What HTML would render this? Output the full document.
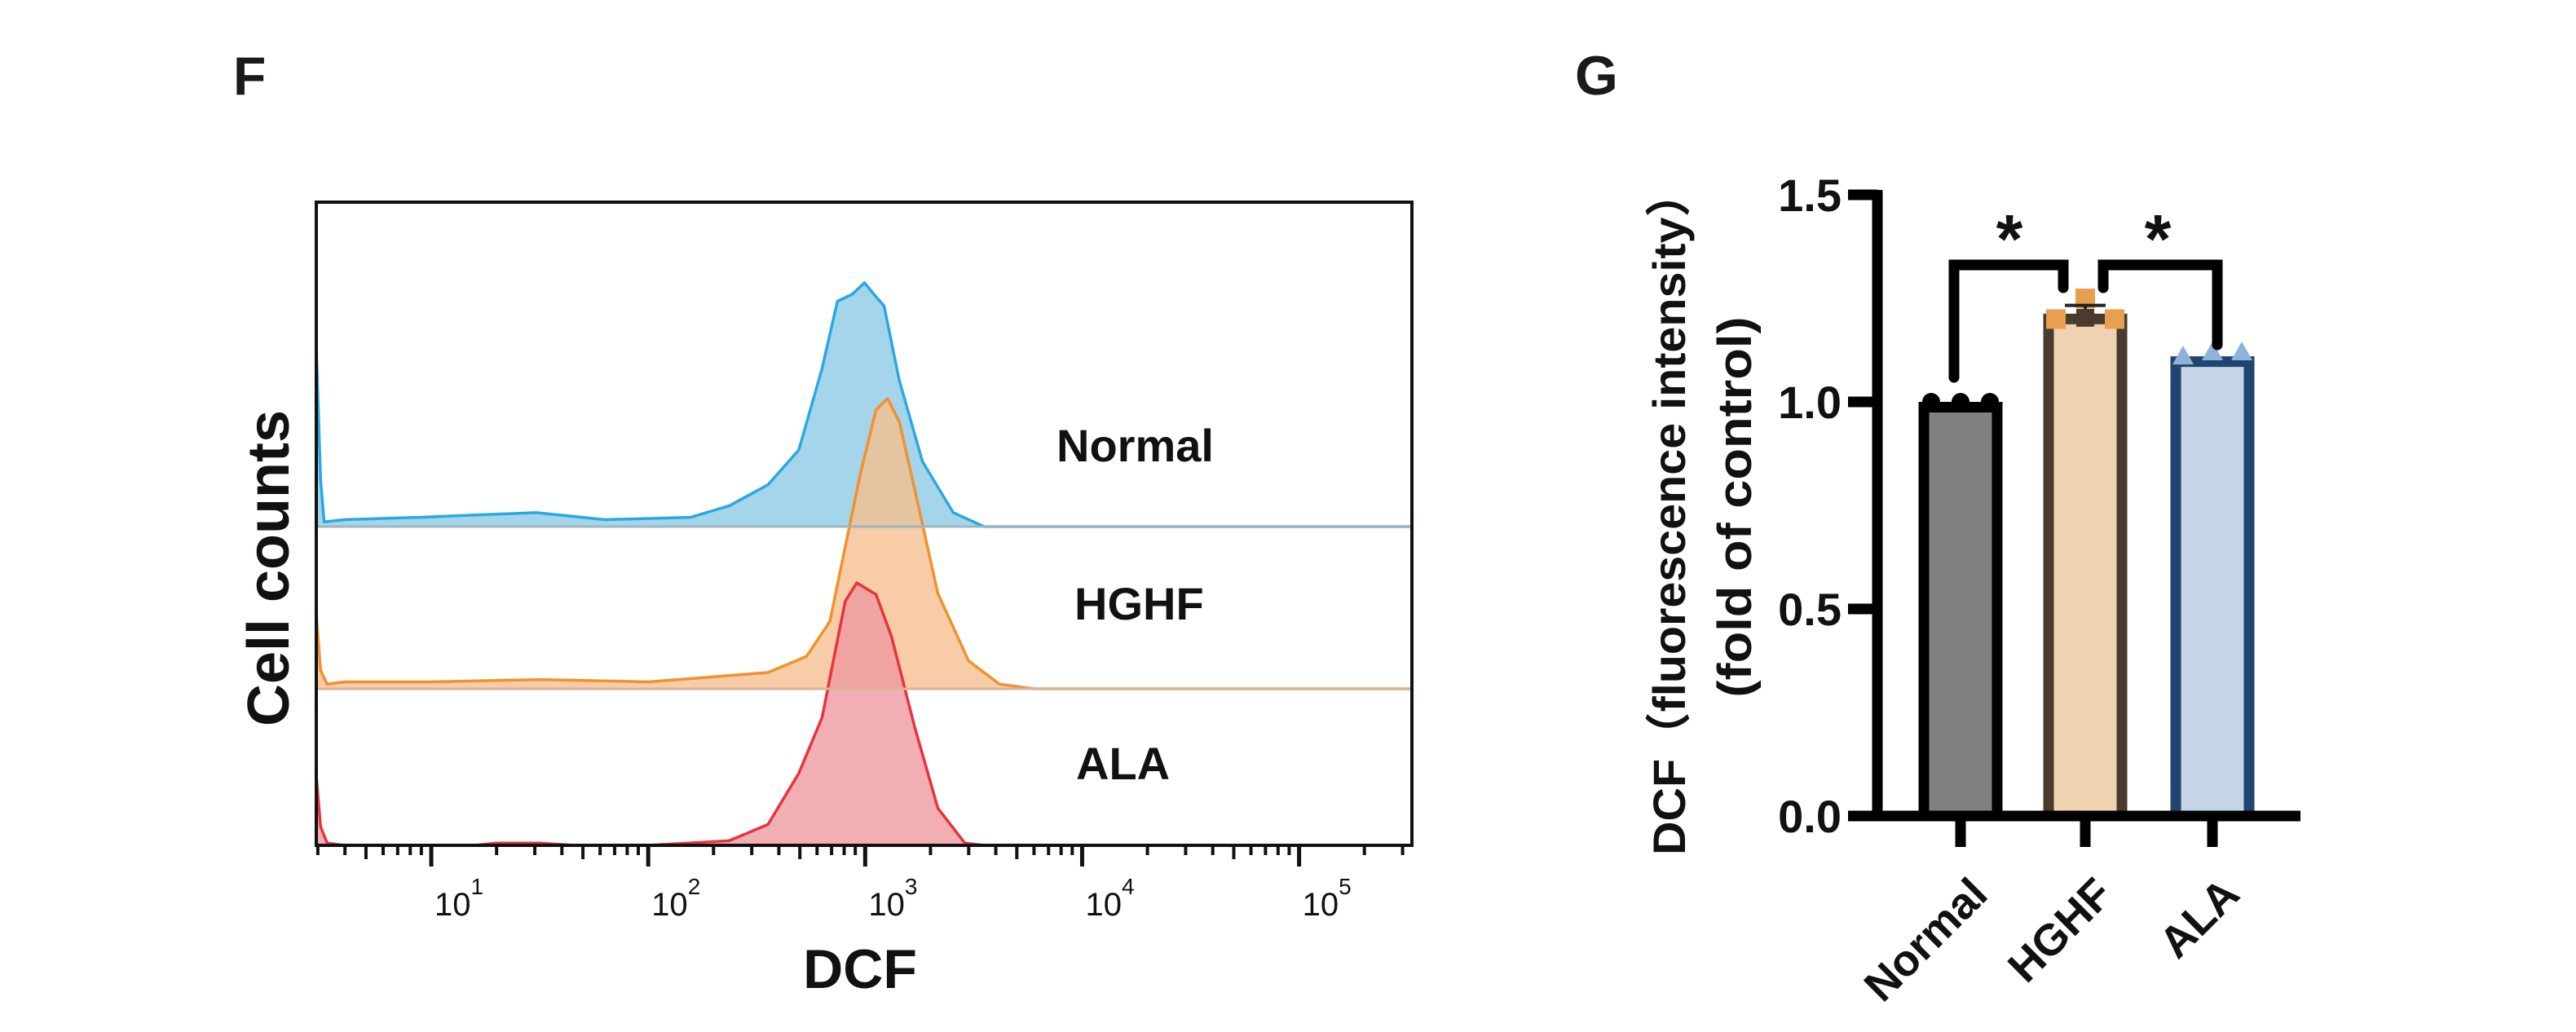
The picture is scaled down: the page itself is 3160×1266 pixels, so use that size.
<!DOCTYPE html>
<html><head><meta charset="utf-8"><style>
html,body{margin:0;padding:0;background:#fff;}
svg{display:block;font-family:"Liberation Sans","Noto Sans CJK SC",sans-serif;}
</style></head><body>
<svg id="fig" width="3160" height="1266" viewBox="0 0 3160 1266" xmlns="http://www.w3.org/2000/svg">
<rect width="3160" height="1266" fill="#fff"/>
<text x="286" y="116" font-size="66" font-weight="bold" fill="#1a1a1a">F</text>
<text x="1932" y="116" font-size="68" font-weight="bold" fill="#1a1a1a">G</text>
<g id="hist"></g>
<g id="bars"></g>
</svg>
<script>
// ---------- Histogram data ----------
const histGroups = ["Normal", "HGHF", "ALA"];
const normalLog = [0.47,0.49,0.506,0.6,0.95,1.2,1.484,1.8,2.196,2.374,2.552,2.694,2.801,2.872,2.94,2.997,3.04,3.087,3.157,3.264,3.406,3.548,5.52];
const normalCounts = [77,20,2,3,4,5,6,3,4,9,18,33,68,97,100,105,100,95,63,28,6,0,0];
const hghfLog = [0.47,0.49,0.52,0.6,1.0,1.5,2.0,2.552,2.73,2.837,2.908,2.979,3.05,3.103,3.157,3.228,3.335,3.477,3.619,3.78,5.52];
const hghfCounts = [32,8,2,3,3,4,3,7,14,29,61,93,120,125,115,86,41,12,2,0,0];
const alaLog = [0.47,0.49,0.52,0.6,1.2,1.3,1.5,1.66,2.0,2.374,2.552,2.694,2.801,2.908,2.961,3.05,3.121,3.228,3.335,3.459,3.548,5.52];
const alaCounts = [30,8,1,0,0,1,1,0,0,2,9,31,55,105,113,108,90,51,16,1,0,0];
const decadeTicks = [1,2,3,4,5];

// ---------- Bar data ----------
const barCategories = ["Normal", "HGHF", "ALA"];
const barMeans = [1.0, 1.213, 1.11];
const barErr = [0.0, 0.02, 0.0];
const barPoints = [[1.0,1.0,1.0],[1.2,1.25,1.2],[1.11,1.12,1.12]];
const yTicks = [0.0, 0.5, 1.0, 1.5];
const yTickLabels = ["0.0","0.5","1.0","1.5"];

const NS = "http://www.w3.org/2000/svg";
function mk(tag, attrs, parent){const e=document.createElementNS(NS,tag);for(const k in attrs)e.setAttribute(k,attrs[k]);parent.appendChild(e);return e;}

// ---------- Histogram ----------
(function(){
  const g=document.getElementById('hist');
  const L=388,R=1732,T=248,B=1037;
  const logMin=0.47, logMax=5.52;
  const X=v=>L+(v-logMin)/(logMax-logMin)*(R-L);
  const pxPerCount=2.85;
  const baselines=[646,845,1037];
  const strokes=["#29a9e0","#f0922e","#e8343e"];
  const fills=["#8fcbe6","#f5bf90","#ee9aa0"];
  const logs=[normalLog,hghfLog,alaLog];
  const cnts=[normalCounts,hghfCounts,alaCounts];
  for(let s=0;s<3;s++){
    const b=baselines[s];
    const Y=c=>b-c*pxPerCount;
    let d="M"+X(logs[s][0])+","+b;
    logs[s].forEach((v,i)=>{d+=" L"+X(v).toFixed(1)+","+Y(cnts[s][i]).toFixed(1);});
    d+=" L"+R+","+b+" Z";
    const area=mk('path',{d:d,fill:fills[s],'fill-opacity':0.8,stroke:'none'},g);
    
    
    let d2="M"+X(logs[s][0])+","+b;
    logs[s].forEach((v,i)=>{d2+=" L"+X(v).toFixed(1)+","+Y(cnts[s][i]).toFixed(1);});
    d2+=" L"+R+","+b;
    const line=mk('path',{d:d2,fill:'none',stroke:strokes[s],'stroke-width':3.5,'stroke-linejoin':'round'},g);
    
    
  }
  [646,845].forEach((b,i)=>{
    const l=mk('line',{x1:L,x2:R,y1:b,y2:b,stroke:i?'#d9b49a':'#9fb6c2','stroke-width':3},g);
    
    
  });
  const frame=mk('rect',{x:L,y:T,width:R-L,height:B-T,fill:'none',stroke:'#111','stroke-width':4},g);
  
  
  for(let dcd=0;dcd<=5;dcd++){
    for(let m=1;m<=9;m++){
      const v=dcd+Math.log10(m);
      if(v<logMin||v>logMax)continue;
      const len=m===1?26:(m===5?17:12);
      const t=mk('line',{x1:X(v),x2:X(v),y1:B,y2:B+len,stroke:'#111','stroke-width':m===1?5:4},g);
      
      
    }
  }
  decadeTicks.forEach(p=>{
    const t=mk('text',{x:X(p)+4,y:1123,'font-size':40,fill:'#111'},g);
    
    
    t.appendChild(document.createTextNode('10'));
    const sup=mk('tspan',{'font-size':28,dy:-26},t);
    sup.textContent=String(p);
  });
  const lbl=(txt,x,y,fs,name)=>{const t=mk('text',{x:x,y:y,'font-size':fs,'font-weight':'bold',fill:'#111'},g);t.textContent=txt;return t;};
  lbl('Normal',1296,566,56,'normal-label');
  lbl('HGHF',1318,760,56,'hghf-label');
  lbl('ALA',1320,956,56,'ala-label');
  const xt=lbl('DCF',1055,1212,68,'x-axis-title');xt.setAttribute('text-anchor','middle');
  const yt=mk('text',{x:0,y:0,'font-size':72,'font-weight':'bold',fill:'#111','text-anchor':'middle',transform:'translate(354,697) rotate(-90)'},g);
  
  
  yt.textContent='Cell counts';
})();

// ---------- Bar chart ----------
(function(){
  const g=document.getElementById('bars');
  const axisX=2303, y0=1001, unit=508, xEnd=2822;
  const Y=v=>y0-v*unit;
  const centers=[2405,2558,2714];
  const bw=103, sw=13;
  const fills=["#808080","#efd2b2","#c6d6e8"];
  const strokes=["#000","#4a3b2c","#1f4570"];
  const ptCol=["#000","#e8a050","#8fb2d8"];
  barCategories.forEach((c,i)=>{
    const top=Y(barMeans[i]);
    const r=mk('rect',{x:centers[i]-bw/2+sw/2,y:top+sw/2,width:bw-sw,height:y0-top-sw/2,fill:fills[i],stroke:strokes[i],'stroke-width':sw},g);
    
    
    barPoints[i].forEach((v,j)=>{
      const px=centers[i]+(j-1)*(i===1&&j===1?0:36), py=Y(v);
      let p;
      if(i===0)p=mk('circle',{cx:px,cy:py,r:11,fill:ptCol[i]},g);
      else if(i===1)p=mk('rect',{x:px-12,y:py-12,width:24,height:24,fill:ptCol[i]},g);
      else p=mk('path',{d:`M${px},${py-13} L${px+13},${py+10} L${px-13},${py+10} Z`,fill:ptCol[i]},g);
      
      
    });
    const e=barErr[i];
    if(e>0){
      const el=mk('path',{d:`M${centers[i]},${Y(barMeans[i]+e)} V${top} M${centers[i]-25},${Y(barMeans[i]+e)} H${centers[i]+25}`,stroke:'#222','stroke-width':4,fill:'none'},g);
      
      
      const mm=mk('rect',{x:centers[i]-11,y:top-6,width:22,height:22,fill:'#4a3b2c'},g);
      
      
    }
    const tk=mk('line',{x1:centers[i],x2:centers[i],y1:y0,y2:y0+38,stroke:'#000','stroke-width':sw},g);
    
    
    const tl=mk('text',{x:0,y:0,'font-size':54,'font-weight':'bold',fill:'#111','text-anchor':'end',transform:`translate(${centers[i]+36},${1100}) rotate(-45)`},g);
    
    
    tl.textContent=c;
  });
  const ax=mk('path',{d:`M${axisX},${Y(1.5)-6} V${y0} H${xEnd}`,stroke:'#000','stroke-width':sw,fill:'none'},g);
  
  
  yTicks.forEach((v,i)=>{
    const t=mk('line',{x1:axisX-36,x2:axisX,y1:Y(v),y2:Y(v),stroke:'#000','stroke-width':sw},g);
    
    
    const l=mk('text',{x:axisX-44,y:Y(v)+20,'font-size':56,'font-weight':'bold',fill:'#111','text-anchor':'end'},g);
    
    
    l.textContent=yTickLabels[i];
  });
  const br1=mk('path',{d:`M2397,463 V325 H2531 V353`,stroke:'#000','stroke-width':sw,fill:'none','stroke-linecap':'round'},g);
  
  
  const br2=mk('path',{d:`M2580,353 V325 H2720 V423`,stroke:'#000','stroke-width':sw,fill:'none','stroke-linecap':'round'},g);
  
  
  [[2465,'star-normal-hghf'],[2647,'star-hghf-ala']].forEach(s=>{
    const t=mk('text',{x:s[0],y:322,'font-size':84,'font-weight':'bold',fill:'#111','text-anchor':'middle'},g);
    
    
    t.textContent='*';
  });
  const t1=mk('text',{x:0,y:0,'font-size':56,'font-weight':'bold',fill:'#111','text-anchor':'middle',textLength:840,lengthAdjust:'spacingAndGlyphs',transform:'translate(2067,629) rotate(-90)'},g);
  
  
  t1.textContent='DCF（fluorescence intensity）';
  const t2=mk('text',{x:0,y:0,'font-size':58,'font-weight':'bold',fill:'#111','text-anchor':'middle',textLength:467,lengthAdjust:'spacingAndGlyphs',transform:'translate(2148,622) rotate(-90)'},g);
  
  
  t2.textContent='(fold of control)';
})();
</script>
</body></html>
